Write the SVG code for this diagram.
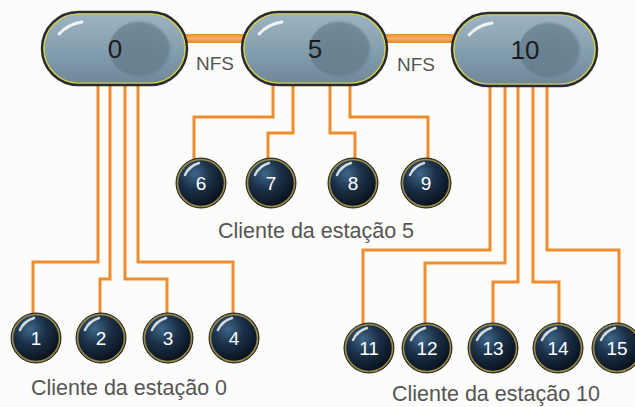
<svg xmlns="http://www.w3.org/2000/svg" xmlns:xlink="http://www.w3.org/1999/xlink" width="635" height="407" viewBox="0 0 635 407">
<style>
.wire{fill:none;stroke:#ef8c2c;stroke-width:3}
.lbl{font-family:"Liberation Sans",Arial,sans-serif;fill:#555;font-size:21.5px}
.nfs{font-family:"Liberation Sans",Arial,sans-serif;fill:#555;font-size:19px}
.srvt{font-family:"Liberation Sans",Arial,sans-serif;fill:#1c1c1c;font-size:26px;text-anchor:middle}
.clt{font-family:"Liberation Sans",Arial,sans-serif;fill:#fff;font-size:19px;text-anchor:middle}
.hl{fill:none;stroke:#fff;stroke-width:3;stroke-linecap:round;opacity:.85}
</style>
<defs>
<linearGradient id="srvG" x1="0" y1="0" x2="0" y2="1">
<stop offset="0" stop-color="#9fb4c2"/>
<stop offset="0.5" stop-color="#85a0b0"/>
<stop offset="1" stop-color="#6d8798"/>
</linearGradient>
<radialGradient id="shadeG" cx="0.45" cy="0.5" r="0.5">
<stop offset="0" stop-color="#627a8a" stop-opacity="0.8"/>
<stop offset="0.88" stop-color="#627a8a" stop-opacity="0.7"/>
<stop offset="1" stop-color="#627a8a" stop-opacity="0"/>
</radialGradient>
<linearGradient id="nfsG" x1="0" y1="0" x2="0" y2="1">
<stop offset="0" stop-color="#f08a22"/>
<stop offset="0.5" stop-color="#f7b060"/>
<stop offset="1" stop-color="#ec8420"/>
</linearGradient>
<radialGradient id="cliG" cx="0.38" cy="0.32" r="0.7">
<stop offset="0" stop-color="#3f6688"/>
<stop offset="0.45" stop-color="#1b3148"/>
<stop offset="1" stop-color="#070e18"/>
</radialGradient>
<g id="srv">
<rect x="0" y="0" width="145" height="73" rx="36.5" fill="url(#srvG)" stroke="#2b2b2b" stroke-width="2.5"/>
<ellipse cx="100" cy="37" rx="33" ry="29" fill="url(#shadeG)"/>
<rect x="2" y="2" width="141" height="69" rx="34.5" fill="none" stroke="#d8d040" stroke-width="1.2"/>
<path class="hl" d="M17 22 Q26 12 40 10"/>
</g>
<g id="cli">
<circle r="25" fill="url(#cliG)" stroke="#2a2a20" stroke-width="1"/>
<circle r="23.5" fill="none" stroke="#9a8a4a" stroke-width="1.6"/>
<path d="M-16 -8 Q-12 -17 -2 -20" fill="none" stroke="#fff" stroke-width="2.5" stroke-linecap="round" opacity="0.8"/>
</g>
</defs>
<rect width="635" height="407" fill="#fcfcfa"/>

<g id="connectors">
<rect x="186" y="34" width="57" height="9" fill="url(#nfsG)"/>
<rect x="386" y="34" width="67" height="9" fill="url(#nfsG)"/>
<path class="wire" d="M98 85 V262 H33 V315"/>
<path class="wire" d="M110 85 V279 H100 V315"/>
<path class="wire" d="M125 85 V279 H167 V315"/>
<path class="wire" d="M138 85 V262 H233 V315"/>
<path class="wire" d="M273 85 V117 H194 V160"/>
<path class="wire" d="M293 85 V133 H268 V160"/>
<path class="wire" d="M330 85 V133 H355 V160"/>
<path class="wire" d="M350 85 V117 H428 V160"/>
<path class="wire" d="M490 86 V250 H363 V325"/>
<path class="wire" d="M505 86 V263 H425 V325"/>
<path class="wire" d="M518 86 V282 H493 V325"/>
<path class="wire" d="M533 86 V282 H559 V325"/>
<path class="wire" d="M547 86 V250 H619 V325"/>
</g>

<text class="nfs" x="196" y="70">NFS</text>
<text class="nfs" x="397" y="71">NFS</text>

<g id="server0"><use xlink:href="#srv" x="42" y="12"/><text class="srvt" x="115" y="58">0</text></g>
<g id="server5"><use xlink:href="#srv" x="242" y="12"/><text class="srvt" x="315" y="58">5</text></g>
<g id="server10"><use xlink:href="#srv" x="452" y="13"/><text class="srvt" x="525" y="59">10</text></g>

<g id="client1"><use xlink:href="#cli" x="36" y="338"/><text class="clt" x="36" y="345">1</text></g>
<g id="client2"><use xlink:href="#cli" x="101" y="338"/><text class="clt" x="101" y="345">2</text></g>
<g id="client3"><use xlink:href="#cli" x="168" y="338"/><text class="clt" x="168" y="345">3</text></g>
<g id="client4"><use xlink:href="#cli" x="234" y="338"/><text class="clt" x="234" y="345">4</text></g>

<g id="client6"><use xlink:href="#cli" x="201" y="183"/><text class="clt" x="201" y="190">6</text></g>
<g id="client7"><use xlink:href="#cli" x="271" y="183"/><text class="clt" x="271" y="190">7</text></g>
<g id="client8"><use xlink:href="#cli" x="353" y="183"/><text class="clt" x="353" y="190">8</text></g>
<g id="client9"><use xlink:href="#cli" x="426" y="183"/><text class="clt" x="426" y="190">9</text></g>

<g id="client11"><use xlink:href="#cli" x="369" y="348"/><text class="clt" x="369" y="355">11</text></g>
<g id="client12"><use xlink:href="#cli" x="427" y="348"/><text class="clt" x="427" y="355">12</text></g>
<g id="client13"><use xlink:href="#cli" x="493" y="348"/><text class="clt" x="493" y="355">13</text></g>
<g id="client14"><use xlink:href="#cli" x="558" y="348"/><text class="clt" x="558" y="355">14</text></g>
<g id="client15"><use xlink:href="#cli" x="617" y="348"/><text class="clt" x="617" y="355">15</text></g>

<text class="lbl" x="31" y="395">Cliente da estação 0</text>
<text class="lbl" x="218" y="238">Cliente da estação 5</text>
<text class="lbl" x="392" y="401">Cliente da estação 10</text>
</svg>
